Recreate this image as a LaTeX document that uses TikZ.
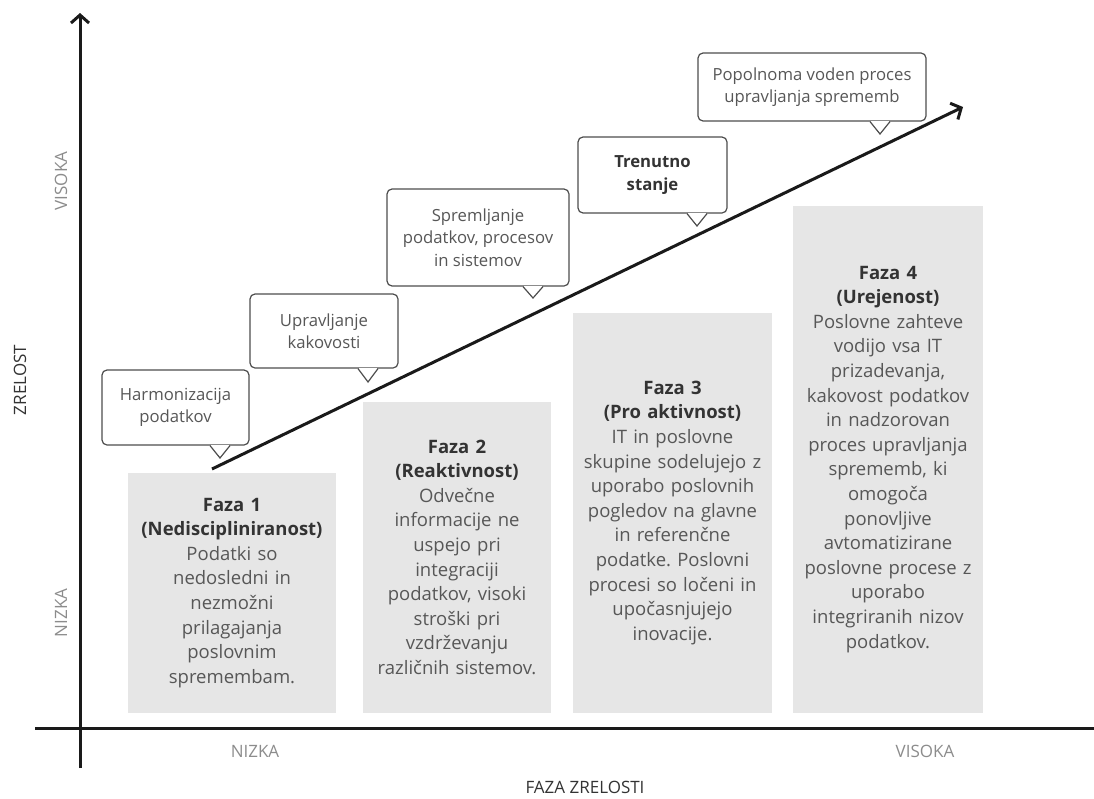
\documentclass[tikz,border=0pt]{standalone}
\usepackage{fontspec}
\setmainfont{Open Sans}
\frenchspacing
\usetikzlibrary{arrows.meta}
\definecolor{boxgray}{HTML}{E6E6E6}
\definecolor{titletext}{HTML}{333333}
\definecolor{bodytext}{HTML}{575757}
\definecolor{axislabel}{HTML}{8C8C8C}
\definecolor{lineblack}{HTML}{1A1A1A}
\definecolor{bubbleline}{HTML}{4D4D4D}
\newcommand{\phasetitle}[1]{\textcolor{titletext}{\bfseries #1}}
% small triangle under a callout: #1 callout node, #2 tip coordinate
\newcommand{\pointer}[2]{%
\fill[white] ([xshift=-9.4pt]#2 |- #1.south) -- (#2) -- ([xshift=9.4pt]#2 |- #1.south) -- cycle;
\draw[white, line width=2pt] ([xshift=-9.4pt]#2 |- #1.south) -- ([xshift=9.4pt]#2 |- #1.south);
\draw[bubbleline, line width=1.2pt] ([xshift=-10pt]#2 |- #1.south) -- (#2) -- ([xshift=10pt]#2 |- #1.south);
}
\tikzset{
x=1pt, y=-1pt, % one unit is one pixel of the sketch, y runs downwards
>={Straight Barb[length=8pt,width=18pt]}, % open arrow heads
axis/.style={line width=3pt, draw=lineblack}, % axes and the trend line
phase/.style={fill=boxgray, anchor=south, align=center, inner sep=0pt, text=bodytext, font=\fontsize{18.5}{24.6}\selectfont}, % grey phase boxes
bubble/.style={draw=bubbleline, fill=white, rounded corners=5pt, line width=1.2pt, align=center, inner sep=0pt, text=bodytext, font=\fontsize{16.7}{22.5}\selectfont}, % speech bubbles
axis label/.style={text=axislabel, font=\fontsize{17}{20}\selectfont},
axis title/.style={text=titletext, font=\fontsize{17}{20}\selectfont},
}

\begin{document}
\begin{tikzpicture}
\useasboundingbox (0,0) rectangle (1094,798);

\draw[axis, ->] (80,768) -- (80,13);
\draw[axis, ->] (35,728) -- (1109,728);

\node[axis title, rotate=90] (zrelost) at (20,380) {ZRELOST};
\node[axis label, rotate=90] (yhigh) at (61,181) {VISOKA};
\node[axis label, rotate=90] (ylow) at (61,613) {NIZKA};
\node[axis label] (xlow) at (255,751) {NIZKA};
\node[axis label] (xhigh) at (925,751) {VISOKA};
\node[axis title] (fazazrelosti) at (585,787) {FAZA ZRELOSTI};

\node[phase, text width=208pt, minimum height=240pt] (f1) at (232,713) {\phasetitle{Faza 1}\\\phasetitle{(Nediscipliniranost)}\\Podatki so\\nedosledni in\\nezmožni\\prilagajanja\\poslovnim\\spremembam.};
\node[phase, text width=188pt, minimum height=311pt] (f2) at (457,713) {\phasetitle{Faza 2}\\\phasetitle{(Reaktivnost)}\\Odvečne\\informacije ne\\uspejo pri\\integraciji\\podatkov, visoki\\stroški pri\\vzdrževanju\\različnih sistemov.};
\node[phase, text width=199pt, minimum height=400pt] (f3) at (672.5,713) {\phasetitle{Faza 3}\\\phasetitle{(Pro aktivnost)}\\IT in poslovne\\skupine sodelujejo z\\uporabo poslovnih\\pogledov na glavne\\in referenčne\\podatke. Poslovni\\procesi so ločeni in\\upočasnjujejo\\inovacije.};
\node[phase, text width=190pt, minimum height=507pt] (f4) at (888,713) {\phasetitle{Faza 4}\\\phasetitle{(Urejenost)}\\Poslovne zahteve\\vodijo vsa IT\\prizadevanja,\\kakovost podatkov\\in nadzorovan\\proces upravljanja\\sprememb, ki\\omogoča\\ponovljive\\avtomatizirane\\poslovne procese z\\uporabo\\integriranih nizov\\podatkov.};

\coordinate (start) at (212,469);
\coordinate (goal) at (963,107);
\draw[axis, ->] (start) -- (goal);

\node[bubble, minimum width=147pt, minimum height=75pt] (c1) at (175.5,407.5) {Harmonizacija\\podatkov};
\node[bubble, minimum width=148pt, minimum height=74pt] (c2) at (324,331) {Upravljanje\\kakovosti};
\node[bubble, minimum width=182pt, minimum height=97pt] (c3) at (478,237.5) {Spremljanje\\podatkov, procesov\\in sistemov};
\node[bubble, minimum width=149pt, minimum height=76pt] (c4) at (652.5,175) {\phasetitle{Trenutno}\\\phasetitle{stanje}};
\node[bubble, minimum width=228pt, minimum height=68pt] (c5) at (812,87) {Popolnoma voden proces\\upravljanja sprememb};

\coordinate (t1) at (220,458);
\coordinate (t2) at (368,382);
\coordinate (t3) at (533,298);
\coordinate (t4) at (697,226);
\coordinate (t5) at (880,134);
\pointer{c1}{t1}
\pointer{c2}{t2}
\pointer{c3}{t3}
\pointer{c4}{t4}
\pointer{c5}{t5}
\end{tikzpicture}
\end{document}
